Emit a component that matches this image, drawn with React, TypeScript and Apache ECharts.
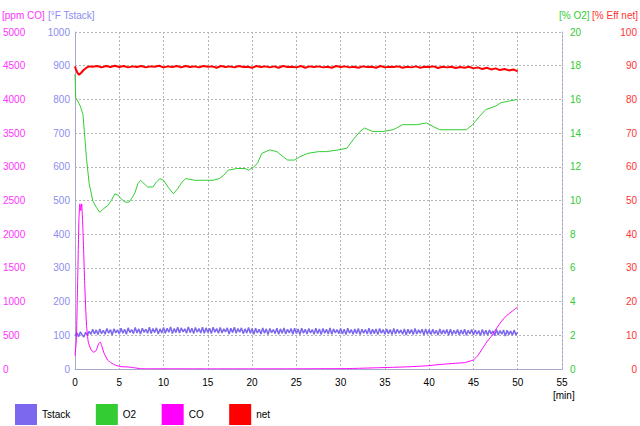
import React, { useEffect, useRef } from "react";
import * as echarts from "echarts";

// Tstack [°F], sampled every 0.2 min from 0 to 50 min
const tstackStep = 0.2;
const tstack = [
  98,108,96,110,101,95,109,100,112,103,118,104,116,102,119,105,115,103,120,106,117,101,119,107,116,
  104,121,106,118,103,122,108,117,105,123,107,119,104,121,109,118,106,124,105,120,108,122,104,119,107,
  123,106,121,109,125,105,120,108,124,107,122,110,119,106,125,108,121,105,123,109,120,107,124,106,122,
  108,121,105,124,109,120,106,123,107,119,110,122,104,121,108,124,106,120,109,122,105,119,107,123,106,
  120,103,121,107,118,104,122,106,119,102,120,108,117,105,121,103,119,106,122,104,118,107,120,103,121,
  105,119,102,121,106,118,104,120,107,117,103,121,105,119,102,120,106,118,104,122,103,119,107,117,105,
  120,104,118,102,121,106,117,103,119,105,120,102,118,106,117,104,121,103,118,105,119,102,120,106,117,
  103,119,105,117,102,120,104,118,106,116,103,119,101,118,105,117,102,120,104,116,106,118,101,119,103,
  117,102,118,104,115,101,119,103,116,105,117,100,118,102,115,104,117,101,116,103,118,100,115,104,117,
  101,116,103,114,99,117,102,115,100,116,104,113,99,117,101,114,103,116,98,115,102,113,100,116,101,
  109,
];

// O2 [%] (time min, value)
const o2Times = [0,0.08,0.2,0.6,0.9,1.1,1.3,1.6,2.0,2.4,2.8,3.2,3.7,4.1,4.5,4.9,5.2,5.7,6.1,6.5,6.8,7.1,7.4,7.8,8.2,8.8,9.2,9.6,10.0,10.5,11.1,11.6,12.1,12.5,13.5,14.5,15.6,16.3,16.8,17.3,18.3,19.2,19.6,20.2,20.6,21.1,22.0,22.8,23.5,24.0,24.8,25.4,26.3,27.5,28.4,29.7,30.7,31.4,32.2,32.7,33.6,34.8,35.9,36.3,37.0,38.6,39.7,40.4,41.2,42.7,44.2,44.9,45.7,46.4,47.5,48.1,49.0,50.0];
const o2Values = [17.5,16.1,16.0,15.6,15.1,13.8,12.5,11.0,10.0,9.6,9.3,9.5,9.7,10.0,10.4,10.3,10.1,9.9,9.9,10.2,10.5,11.0,11.2,11.0,10.8,10.8,11.1,11.3,11.2,10.8,10.4,10.7,11.1,11.3,11.2,11.2,11.2,11.3,11.5,11.8,11.9,11.9,11.8,12.0,12.2,12.8,13.0,12.9,12.6,12.4,12.4,12.6,12.8,12.9,12.9,13.0,13.1,13.6,14.1,14.3,14.1,14.1,14.2,14.3,14.5,14.5,14.6,14.4,14.2,14.2,14.2,14.5,15.0,15.4,15.6,15.8,15.9,16.0];

// CO [ppm] (time min, value)
const coTimes = [0,0.15,0.3,0.45,0.55,0.65,0.75,0.9,1.1,1.3,1.5,1.8,2.1,2.4,2.65,2.85,3.0,3.3,3.7,4.1,4.6,5.2,6.0,6.6,7.4,8,10,15,20,25,30,32,34,36,38,40,41,42,43,44,45,45.5,46,46.5,47,47.5,48,48.5,49,49.5,50];
const coValues = [200,420,1300,2250,2450,2350,2450,2050,1250,650,400,290,250,275,370,400,350,230,130,90,55,35,30,20,5,3,3,2,2,3,5,10,18,25,35,50,65,75,85,95,135,200,300,400,480,580,680,760,820,870,920];

// Efficiency net [%]
const effStartTimes = [0,0.1,0.25,0.45,0.7,1.0,1.3,1.6];
const effStartValues = [89.8,89.0,88.0,87.3,87.9,88.8,89.4,89.8];
const effStep = 0.5; // from 2.0 to 50.0 min
const effValues = [
  89.7,89.9,89.5,89.9,89.6,90.0,89.6,89.9,89.5,89.8,
  89.6,89.9,89.5,89.8,89.7,90.0,89.5,89.8,89.6,89.9,
  89.5,89.9,89.6,89.8,89.5,89.9,89.7,89.8,89.4,89.9,
  89.6,89.8,89.5,89.9,89.6,89.7,89.4,89.9,89.6,89.8,
  89.5,89.8,89.4,89.9,89.6,89.7,89.5,89.9,89.4,89.8,
  89.6,89.8,89.5,89.7,89.4,89.9,89.6,89.8,89.5,89.7,
  89.4,89.8,89.6,89.7,89.4,89.9,89.5,89.7,89.6,89.8,
  89.4,89.7,89.5,89.8,89.4,89.7,89.6,89.8,89.3,89.7,
  89.5,89.7,89.3,89.6,89.4,89.7,89.2,89.5,89.0,89.4,
  88.9,89.2,88.7,89.0,88.6,88.9,88.3,
];

const seriesNames = ["Tstack", "O2", "CO", "net"];
const seriesColors = ["#7b68ee", "#33cc33", "#ff00ff", "#ff0000"];

const FONT = "Liberation Sans, Arial, sans-serif";
const FS = 10;

export default function App() {
  const ref = useRef<HTMLDivElement>(null);
  useEffect(() => {
    document.body.style.margin = "0";
    if (!ref.current) return;
    const chart = echarts.init(ref.current, null, { renderer: "svg" });

    const tstackData = tstack.map((v, i) => [+(i * tstackStep).toFixed(2), v]);
    const o2Data = o2Times.map((t, i) => [t, o2Values[i]]);
    const coData = coTimes.map((t, i) => [t, coValues[i]]);
    const effData = effStartTimes
      .map((t, i) => [t, effStartValues[i]])
      .concat(effValues.map((v, i) => [+(2 + i * effStep).toFixed(2), v]));

    const gridLine = { show: true, lineStyle: { color: "#b4b4b4", type: [2, 2], width: 1 } };
    const axisLineStyle = { color: "#a8a8cc", width: 1 };
    const plain = (v: number) => String(v);

    chart.setOption({
      animation: false,
      textStyle: { fontFamily: FONT },
      grid: { left: 74, right: 77, top: 32, bottom: 57, containLabel: false },
      legend: {
        data: seriesNames,
        left: 10,
        top: 399,
        icon: "rect",
        itemWidth: 22,
        itemHeight: 21,
        itemGap: 25.5,
        textStyle: { fontSize: FS, color: "#000", fontFamily: FONT },
      },
      xAxis: {
        type: "value",
        min: 0,
        max: 55,
        interval: 5,
        axisLine: { show: true, lineStyle: axisLineStyle },
        axisTick: { show: false },
        splitLine: gridLine,
        axisLabel: { color: "#000", fontSize: FS, margin: 8, fontFamily: FONT, formatter: plain },
      },
      yAxis: [
        {
          type: "value",
          position: "left",
          min: 0,
          max: 1000,
          interval: 100,
          axisLine: { show: true, lineStyle: axisLineStyle },
          axisTick: { show: false },
          splitLine: gridLine,
          axisLabel: { color: "#8c8cf0", fontSize: FS, margin: 5, align: "right", fontFamily: FONT, formatter: plain },
        },
        {
          type: "value",
          position: "left",
          min: 0,
          max: 5000,
          interval: 500,
          axisLine: { show: false },
          axisTick: { show: false },
          splitLine: { show: false },
          axisLabel: { color: "#ff33ff", fontSize: FS, margin: 72, align: "left", fontFamily: FONT, formatter: plain },
        },
        {
          type: "value",
          position: "right",
          min: 0,
          max: 20,
          interval: 2,
          axisLine: { show: true, lineStyle: { color: "#a8a8cc", type: [2, 2], width: 1 } },
          axisTick: { show: false },
          splitLine: { show: false },
          axisLabel: { color: "#33cc33", fontSize: FS, margin: 8, align: "left", fontFamily: FONT, formatter: plain },
        },
        {
          type: "value",
          position: "right",
          min: 0,
          max: 100,
          interval: 10,
          axisLine: { show: false },
          axisTick: { show: false },
          splitLine: { show: false },
          axisLabel: { color: "#ff3333", fontSize: FS, margin: 75, align: "right", fontFamily: FONT, formatter: plain },
        },
      ],
      graphic: [
        { type: "text", left: 2, top: 10, style: { text: "[ppm CO]", fill: "#ff33ff", fontSize: FS, fontFamily: FONT } },
        { type: "text", left: 48, top: 10, style: { text: "[°F Tstack]", fill: "#8c8cf0", fontSize: FS, fontFamily: FONT } },
        { type: "text", left: 559, top: 10, style: { text: "[% O2]", fill: "#33cc33", fontSize: FS, fontFamily: FONT } },
        { type: "text", right: 2, top: 10, style: { text: "[% Eff net]", fill: "#ff3333", fontSize: FS, fontFamily: FONT } },
        { type: "text", left: 553, top: 390, style: { text: "[min]", fill: "#000", fontSize: FS, fontFamily: FONT } },
      ],
      series: [
        {
          name: seriesNames[0],
          type: "line",
          yAxisIndex: 0,
          data: tstackData,
          showSymbol: false,
          lineStyle: { color: seriesColors[0], width: 1.5 },
          itemStyle: { color: seriesColors[0] },
        },
        {
          name: seriesNames[1],
          type: "line",
          yAxisIndex: 2,
          data: o2Data,
          showSymbol: false,
          lineStyle: { color: seriesColors[1], width: 1 },
          itemStyle: { color: seriesColors[1] },
        },
        {
          name: seriesNames[2],
          type: "line",
          yAxisIndex: 1,
          data: coData,
          showSymbol: false,
          smooth: 0.15,
          lineStyle: { color: seriesColors[2], width: 1 },
          itemStyle: { color: seriesColors[2] },
        },
        {
          name: seriesNames[3],
          type: "line",
          yAxisIndex: 3,
          data: effData,
          showSymbol: false,
          lineStyle: { color: seriesColors[3], width: 2 },
          itemStyle: { color: seriesColors[3] },
        },
      ],
    });
    return () => chart.dispose();
  }, []);
  return <div ref={ref} style={{ width: 640, height: 426 }} />;
}
